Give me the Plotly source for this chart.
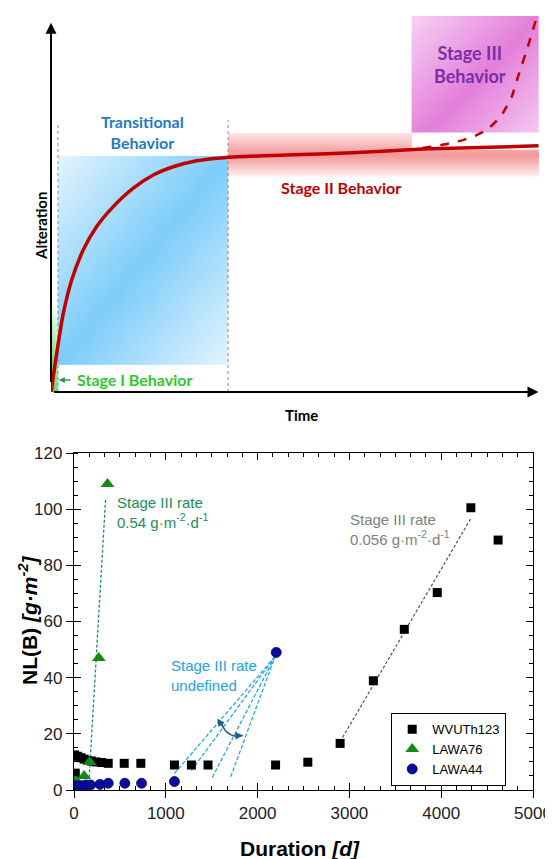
import numpy as np
import plotly.graph_objects as go

# ---------------- Bottom panel data ----------------
wv_x = [7, 14, 40, 75, 110, 150, 190, 240, 300, 373, 547, 728, 1094, 1279, 1460, 2196, 2547, 2899, 3261, 3598, 3957, 4323, 4620]
wv_y = [12.5, 6, 12, 11.5, 11, 10.5, 10.3, 10, 9.8, 9.5, 9.5, 9.5, 8.9, 8.9, 8.9, 8.9, 9.9, 16.6, 38.9, 57.2, 70.3, 100.5, 89]
l76_x = [20, 110, 170, 270, 365]
l76_y = [3.5, 5, 10, 47, 109]
l44_x = [10, 50, 90, 130, 180, 283, 373, 554, 736, 1094, 2203]
l44_y = [1.5, 1.5, 1.5, 1.8, 1.8, 2, 2.4, 2.4, 2.4, 3, 49]

fit76_x = [165, 345]
fit76_y = [4.5, 104]
fitwv_x = [2899, 4323]
fitwv_y = [17.2, 96.7]
fan_top = (2190, 47.5)
fan_end_x = [1094, 1279, 1507, 1707]
fan_end_y = [5.9, 6.9, 4.5, 4.7]
arc_x = [1600, 1660, 1740, 1840]
arc_y = [23.8, 20.8, 19.3, 19.4]

# ---------------- Top panel (schematic) data ----------------
curve_t = [0, 1.17, 2.52, 4.24, 6.62, 9.36, 12.77, 16.86, 20.96, 25.06, 29.86, 36.0, 48.0, 61.7, 76.1, 88.0, 99.9]
curve_a = [0, 10.3, 20.9, 29.8, 37.8, 44.0, 49.3, 54.2, 57.7, 59.9, 61.5, 62.4, 63.0, 63.6, 64.6, 65.0, 65.5]
dash_t = [76.1, 80.5, 84.4, 87.0, 89.3, 91.0, 92.6, 94.4, 95.7, 97.7, 99.6]
dash_a = [64.9, 65.8, 67.0, 68.2, 69.7, 71.7, 74.2, 78.5, 83.9, 91.8, 100]

# page-pixel -> paper helpers (page has an 8px body margin)
W, H, OFF = 545, 851, 8
def px(p):
    return (p - OFF) / W
def py(p):
    return 1 - (p - OFF) / H

fig = go.Figure()

# ---- gradient helpers (style only) ----
def diag_grad(x0, x1, y0, y1, n=40, lo=0.12):
    xs = np.linspace(x0, x1, n + 1)
    ys = np.linspace(y0, y1, n + 1)
    c = (np.arange(n) + 0.5) / n
    xn, yn = np.meshgrid(c, c)
    s = (xn + (1 - yn)) / 2
    z = lo + (1 - lo) * (1 - np.abs(2 * s - 1))
    return xs, ys, z

def add_heat(xs, ys, z, scale):
    fig.add_trace(go.Heatmap(x=xs, y=ys, z=z, colorscale=scale, zmin=0, zmax=1,
                             zsmooth="best", showscale=False, hoverinfo="skip",
                             xaxis="x2", yaxis="y2", showlegend=False))

# green strip (Stage I)
gx = np.linspace(0, 1.43, 5)
gy = np.linspace(0, 24.5, 31)
gz = np.array([[max(0, 1 - yy / 24.5) * (1 - 0.5 * xx / 1.43)
                for xx in (gx[:-1] + gx[1:]) / 2] for yy in (gy[:-1] + gy[1:]) / 2])
add_heat(gx, gy, gz, [[0, "#ffffff"], [1, "#1fc41f"]])

# blue transitional box
bx, by, bz = diag_grad(1.43, 36.3, 7.2, 62.8)
add_heat(bx, by, bz, [[0, "#f2f9fe"], [1, "#7dcdfa"]])

# red stage II band
rx = np.linspace(36.3, 100, 21)
ry = np.linspace(57.2, 68.9, 41)
def redval(a):
    if a <= 63.2:
        return max(0.0, (a - 57.2) / (63.2 - 57.2)) ** 0.8
    return 1 - 0.75 * (a - 63.2) / (68.9 - 63.2)
rz = np.array([[redval(a) for _ in range(20)] for a in (ry[:-1] + ry[1:]) / 2])
add_heat(rx, ry, rz, [[0, "#ffffff"], [1, "#f29696"]])

# white gap below magenta box
fig.add_trace(go.Scatter(x=[73.9, 100, 100, 73.9, 73.9], y=[64.4, 64.4, 69.0, 69.0, 64.4],
                         fill="toself", fillcolor="white", line=dict(width=0),
                         mode="lines", hoverinfo="skip", showlegend=False, xaxis="x2", yaxis="y2"))

# magenta stage III box
mx, my, mz = diag_grad(73.9, 100, 65.2, 100, lo=0.15)
add_heat(mx, my, mz, [[0, "#fbe0f8"], [1, "#e37fda"]])

# dotted separators
for tv, top in [(1.43, 71.8), (36.3, 72.3)]:
    fig.add_trace(go.Scatter(x=[tv, tv], y=[0, top], mode="lines",
                             line=dict(color="#8a8a8a", width=1, dash="dot"),
                             hoverinfo="skip", showlegend=False, xaxis="x2", yaxis="y2"))

# curves
fig.add_trace(go.Scatter(x=dash_t, y=dash_a, mode="lines",
                         line=dict(color="#c00000", width=2.5, dash="dash", shape="spline", smoothing=0.5),
                         hoverinfo="skip", showlegend=False, xaxis="x2", yaxis="y2"))
fig.add_trace(go.Scatter(x=curve_t, y=curve_a, mode="lines",
                         line=dict(color="#c00000", width=3.5, shape="spline", smoothing=0.6),
                         hoverinfo="skip", showlegend=False, xaxis="x2", yaxis="y2"))

# ---------------- Bottom panel traces ----------------
fig.add_trace(go.Scatter(x=fit76_x, y=fit76_y, mode="lines", line=dict(color="#1a8f5c", width=1.3, dash="3px,2px"),
                         hoverinfo="skip", showlegend=False))
fig.add_trace(go.Scatter(x=fitwv_x, y=fitwv_y, mode="lines", line=dict(color="#555555", width=1.2, dash="3px,2px"),
                         hoverinfo="skip", showlegend=False))
for ex, ey in zip(fan_end_x, fan_end_y):
    fig.add_trace(go.Scatter(x=[ex, fan_top[0]], y=[ey, fan_top[1]], mode="lines",
                             line=dict(color="#2aa6e8", width=1.3, dash="4px,2px"),
                             hoverinfo="skip", showlegend=False))
fig.add_trace(go.Scatter(x=arc_x, y=arc_y, mode="lines", line=dict(color="#1d5e8c", width=1.5, shape="spline"),
                         hoverinfo="skip", showlegend=False))

fig.add_trace(go.Scatter(x=wv_x, y=wv_y, mode="markers", name="WVUTh123",
                         marker=dict(symbol="square", size=9, color="black")))
fig.add_trace(go.Scatter(x=l76_x, y=l76_y, mode="markers", name="LAWA76",
                         marker=dict(symbol="triangle-up", size=12, color="#138a13")))
fig.add_trace(go.Scatter(x=l44_x, y=l44_y, mode="markers", name="LAWA44",
                         marker=dict(symbol="circle", size=10, color="#0b0b9e", line=dict(color="#050560", width=0.8))))

# invisible trace for overlay tick axes
fig.add_trace(go.Scatter(x=[0], y=[0], xaxis="x3", yaxis="y3", mode="markers",
                         marker=dict(opacity=0), hoverinfo="skip", showlegend=False))

tickfont = dict(family="Liberation Sans, Arial, sans-serif", size=17, color="#222")
xb_dom = [px(74), px(533)]
yb_dom = [py(790), py(453)]

fig.update_layout(
    template="none",
    width=W, height=H,
    margin=dict(l=0, r=0, t=0, b=0, autoexpand=False),
    paper_bgcolor="white", plot_bgcolor="rgba(0,0,0,0)",
    xaxis=dict(domain=xb_dom, range=[0, 5000], dtick=1000, ticks="outside", ticklen=7, tickwidth=1.2,
               showline=True, linecolor="black", linewidth=1.3, mirror=True, showgrid=False, zeroline=False,
               tickfont=tickfont, anchor="y", automargin=False, tickcolor="black",
               minor=dict(dtick=1000 / 6, ticks="inside", ticklen=4, tickcolor="black", showgrid=False)),
    yaxis=dict(domain=yb_dom, range=[0, 120], dtick=20, ticks="outside", ticklen=7, tickwidth=1.2,
               showline=True, linecolor="black", linewidth=1.3, mirror=True, showgrid=False, zeroline=False,
               tickfont=tickfont, anchor="x", automargin=False, tickcolor="black",
               minor=dict(dtick=5, ticks="inside", ticklen=4, tickcolor="black", showgrid=False)),
    xaxis3=dict(overlaying="x", anchor="y", range=[0, 5000], dtick=1000, ticks="inside", ticklen=7,
                showticklabels=False, showgrid=False, zeroline=False, mirror="allticks", showline=True,
                linecolor="black", linewidth=1.3, automargin=False, tickcolor="black",
                minor=dict(dtick=1000 / 6, ticks="inside", ticklen=4, tickcolor="black", showgrid=False)),
    yaxis3=dict(overlaying="y", anchor="x", range=[0, 120], dtick=20, ticks="inside", ticklen=7,
                showticklabels=False, showgrid=False, zeroline=False, mirror="allticks", showline=True,
                linecolor="black", linewidth=1.3, automargin=False, tickcolor="black",
                minor=dict(dtick=5, ticks="inside", ticklen=4, tickcolor="black", showgrid=False)),
    xaxis2=dict(domain=[px(51), px(539)], range=[0, 100], visible=False, anchor="y2", automargin=False),
    yaxis2=dict(domain=[py(392), py(16)], range=[0, 100], visible=False, anchor="x2", automargin=False),
    legend=dict(x=px(391), y=py(713), xanchor="left", yanchor="top",
                bordercolor="black", borderwidth=1.2, bgcolor="white",
                font=dict(family="Liberation Sans, Arial, sans-serif", size=13, color="black"),
                tracegroupgap=0, itemwidth=30, itemsizing="trace"),
)

ann = []
bf = "Liberation Sans, Arial, sans-serif"
ann.append(dict(xref="x", yref="y", x=446, y=98.8, xanchor="left", yanchor="middle", align="left", showarrow=False,
                text="Stage III rate<br>0.54 g·m<sup>-2</sup>·d<sup>-1</sup>", font=dict(family=bf, size=15, color="#1e8c5a")))
ann.append(dict(xref="x", yref="y", x=1033, y=40.7, xanchor="left", yanchor="middle", align="left", showarrow=False,
                text="Stage III rate<br>undefined", font=dict(family=bf, size=15, color="#22a3ea")))
ann.append(dict(xref="x", yref="y", x=2989, y=92.7, xanchor="left", yanchor="middle", align="left", showarrow=False,
                text="Stage III rate<br>0.056 g·m<sup>-2</sup>·d<sup>-1</sup>", font=dict(family=bf, size=15, color="#808080")))
# arrowheads on curved arrow
ann.append(dict(xref="x", yref="y", axref="x", ayref="y", x=arc_x[-1], y=arc_y[-1], ax=arc_x[-2], ay=arc_y[-2],
                showarrow=True, arrowhead=2, arrowsize=1, arrowwidth=1.5, arrowcolor="#1d5e8c", text=" "))
ann.append(dict(xref="x", yref="y", axref="x", ayref="y", x=arc_x[0] - 40, y=arc_y[0] + 1.6, ax=arc_x[1], ay=arc_y[1],
                showarrow=True, arrowhead=2, arrowsize=1, arrowwidth=1.5, arrowcolor="#1d5e8c", text=" "))
# axis titles bottom
ann.append(dict(xref="paper", yref="paper", x=px(300), y=py(848), xanchor="center", yanchor="middle",
                showarrow=False, text="<b>Duration </b><b><i>[d]</i></b>", font=dict(family=bf, size=21, color="black")))
ann.append(dict(xref="paper", yref="paper", x=px(28), y=py(620), xanchor="center", yanchor="middle",
                showarrow=False, textangle=-90, text="<b>NL(B) </b><b><i>[g·m<sup>-2</sup>]</i></b>",
                font=dict(family=bf, size=21, color="black")))

# ---------------- Top panel annotations ----------------
tf = "Lato, Open Sans, sans-serif"
ann.append(dict(xref="x2", yref="y2", axref="x2", ayref="y2", x=0, y=98.2, ax=0, ay=0, showarrow=True,
                arrowhead=2, arrowsize=1.1, arrowwidth=2, arrowcolor="black", text=" "))
ann.append(dict(xref="x2", yref="y2", axref="x2", ayref="y2", x=99.9, y=0, ax=0, ay=0, showarrow=True,
                arrowhead=2, arrowsize=1.1, arrowwidth=2, arrowcolor="black", text=" "))
ann.append(dict(xref="paper", yref="paper", x=px(30), y=py(190), textangle=-90, showarrow=False,
                text="<b>Alteration</b>", font=dict(family=tf, size=15, color="black")))
ann.append(dict(xref="paper", yref="paper", x=px(301), y=py(415), showarrow=False,
                text="<b>Time</b>", font=dict(family=tf, size=15, color="black")))
ann.append(dict(xref="x2", yref="y2", x=18.8, y=69.1, showarrow=False, align="center",
                text="<b>Transitional<br>Behavior</b>", font=dict(family=tf, size=16, color="#1f7bc6")))
ann.append(dict(xref="x2", yref="y2", x=59.5, y=54.5, showarrow=False,
                text="<b>Stage II Behavior</b>", font=dict(family=tf, size=16, color="#c00000")))
ann.append(dict(xref="x2", yref="y2", x=85.9, y=87.2, showarrow=False, align="center",
                text="<b>Stage III<br>Behavior</b>", font=dict(family=tf, size=18, color="#7a2fa8")))
ann.append(dict(xref="x2", yref="y2", x=4.9, y=3.2, xanchor="left", showarrow=False,
                text="<b>Stage I Behavior</b>", font=dict(family=tf, size=16, color="#2ec82e")))
ann.append(dict(xref="x2", yref="y2", axref="x2", ayref="y2", x=1.6, y=3.2, ax=4.6, ay=3.2, showarrow=True,
                arrowhead=2, arrowsize=0.8, arrowwidth=1.5, arrowcolor="#2a9a4a", text=" "))

fig.update_layout(annotations=ann)
fig.write_html("out.html")
